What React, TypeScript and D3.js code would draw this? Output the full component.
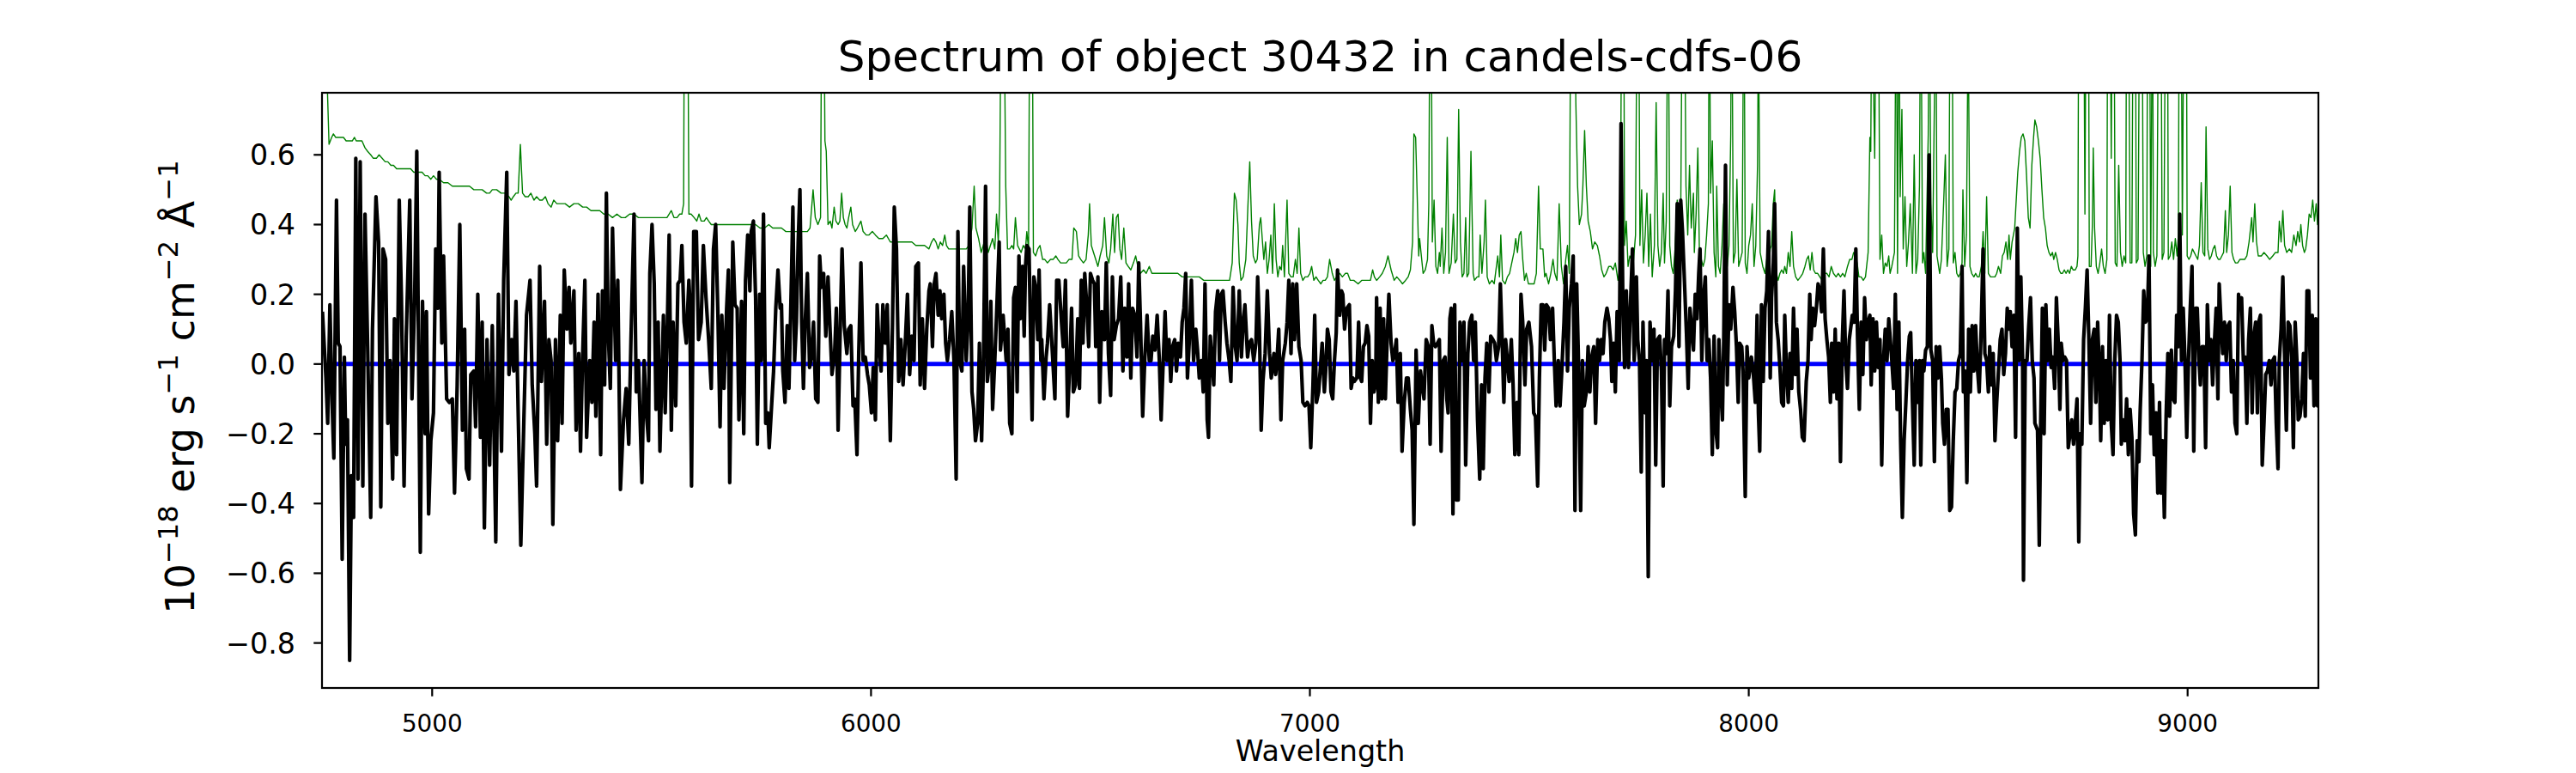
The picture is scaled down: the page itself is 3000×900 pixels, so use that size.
import React, { useEffect, useRef } from "react";
import * as d3 from "d3";

// observed flux (black)
const fluxWave = [
  4750, 4758, 4762, 4767, 4772, 4776, 4782, 4786, 4790, 4795, 4800, 4803, 4807, 4812, 4816, 4821, 4826, 4831, 4836, 4842,
  4847, 4853, 4860, 4864, 4872, 4878, 4883, 4888, 4894, 4899, 4904, 4910, 4914, 4919, 4925, 4930, 4936, 4941, 4949, 4954,
  4960, 4965, 4973, 4978, 4984, 4987, 4992, 4997, 5003, 5008, 5013, 5016, 5022, 5026, 5033, 5039, 5046, 5051, 5057, 5063,
  5069, 5074, 5078, 5084, 5088, 5095, 5099, 5104, 5110, 5114, 5119, 5125, 5131, 5137, 5145, 5151, 5158, 5163, 5170, 5175,
  5181, 5186, 5191, 5197, 5202, 5209, 5215, 5223, 5228, 5234, 5238, 5245, 5249, 5256, 5261, 5266, 5271, 5275, 5281, 5286,
  5292, 5296, 5301, 5307, 5312, 5316, 5323, 5328, 5334, 5338, 5343, 5348, 5352, 5359, 5364, 5369, 5373, 5378, 5384, 5388,
  5393, 5397, 5401, 5406, 5411, 5418, 5423, 5429, 5436, 5442, 5448, 5453, 5460, 5465, 5470, 5478, 5483, 5488, 5493, 5496,
  5501, 5506, 5510, 5515, 5519,
  5527, 5531, 5536, 5540, 5545, 5549, 5555, 5560, 5565, 5569, 5574, 5579, 5585, 5587, 5591, 5596, 5602, 5607, 5613, 5618,
  5624, 5630, 5636, 5641, 5646, 5651, 5656, 5660, 5665, 5671, 5675, 5678, 5685, 5690, 5695, 5699, 5705, 5710, 5714, 5719,
  5724, 5727, 5732, 5737, 5741, 5746, 5750, 5755, 5760, 5765, 5768, 5773, 5778, 5783, 5788, 5793, 5796, 5799, 5804, 5809,
  5813, 5817, 5822, 5826, 5830, 5834, 5838, 5842, 5846, 5850, 5855, 5860, 5864, 5869, 5874, 5879, 5883, 5887, 5892, 5897,
  5902, 5907, 5911, 5917, 5921, 5925, 5930, 5934, 5939, 5945, 5949, 5954, 5959, 5963, 5968, 5972, 5977, 5982, 5987, 5992,
  5996, 6001, 6005, 6010, 6014, 6018, 6023, 6027, 6032, 6037, 6044, 6049, 6053, 6058, 6063, 6068, 6073, 6078, 6083, 6088,
  6093, 6098, 6102, 6108, 6112, 6117, 6122, 6127, 6132, 6135, 6140, 6144, 6148, 6153, 6157, 6161, 6166, 6170, 6174, 6179,
  6184, 6189, 6194, 6198, 6202, 6207, 6211, 6217, 6221, 6225, 6230, 6234, 6238, 6243, 6247, 6252, 6256, 6261, 6265, 6270,
  6273, 6277, 6282, 6286, 6292, 6295, 6301,
  6308, 6312, 6316, 6321, 6325, 6329, 6333, 6337, 6340, 6345, 6349, 6352, 6355, 6360, 6363, 6367, 6371, 6375, 6380, 6383,
  6387, 6389, 6394, 6399, 6402, 6407, 6412, 6419, 6423, 6428, 6434, 6438, 6443, 6448, 6453, 6457, 6461, 6466, 6471, 6475,
  6479, 6483, 6487, 6492, 6496, 6500, 6505, 6509, 6512, 6517, 6521, 6526, 6532, 6536, 6541, 6546, 6550, 6554, 6559, 6564,
  6569, 6574, 6578, 6583, 6587, 6592, 6596, 6601, 6606, 6610, 6614, 6619, 6624, 6629, 6634, 6638, 6642, 6647, 6652, 6657,
  6661, 6665, 6670, 6674, 6679, 6683, 6687, 6692, 6696, 6700, 6705, 6709, 6713, 6717, 6721, 6725, 6730, 6735, 6740, 6744,
  6748, 6753, 6757, 6761, 6766, 6769, 6773, 6777, 6781, 6785, 6790, 6794, 6798, 6802, 6807, 6811, 6816, 6820, 6825, 6830,
  6834, 6839, 6844, 6848, 6852, 6858, 6862, 6867, 6872, 6877, 6881, 6885, 6889, 6893, 6898, 6903, 6908, 6912, 6918, 6922,
  6925, 6929, 6934, 6938, 6944, 6948, 6952, 6957, 6961, 6965, 6970, 6975, 6980, 6984, 6989, 6994, 6998, 7002, 7007, 7011,
  7015, 7020, 7025, 7028, 7033, 7036, 7040, 7044, 7048, 7052, 7056, 7060, 7063, 7068, 7072, 7075, 7079, 7084,
  7090, 7094, 7098, 7101, 7107, 7111, 7115, 7118, 7122, 7126, 7130, 7134, 7138, 7142, 7146, 7150, 7152, 7156, 7160, 7164,
  7168, 7172, 7176, 7180, 7185, 7189, 7193, 7197, 7201, 7206, 7210, 7215, 7220, 7224, 7229, 7233, 7237, 7242, 7247, 7252,
  7255, 7260, 7265, 7270, 7274, 7278, 7282, 7286, 7291, 7295, 7299, 7304, 7308, 7312, 7315, 7319, 7322, 7326, 7330, 7334,
  7338, 7342, 7347, 7351, 7355, 7360, 7364, 7369, 7373, 7377, 7382, 7387, 7391, 7395, 7399, 7403, 7408, 7412, 7417, 7421,
  7425, 7430, 7434, 7438, 7442, 7446, 7450, 7454, 7459, 7463, 7467, 7472, 7476, 7481, 7485, 7490, 7494, 7499, 7505, 7510,
  7514, 7519, 7523, 7527, 7531, 7535, 7539, 7544, 7548, 7553, 7557, 7561, 7566, 7570, 7574, 7579, 7583, 7587, 7591, 7596,
  7600, 7604, 7608, 7612, 7617, 7621, 7625, 7630, 7634, 7638, 7642, 7647, 7651, 7656, 7660, 7664, 7668, 7672, 7677, 7681,
  7685, 7688, 7692, 7696, 7700, 7705, 7709, 7713, 7717, 7721, 7726, 7731, 7735, 7739, 7744, 7747, 7751, 7755, 7759, 7764,
  7767, 7771, 7775, 7780, 7784, 7788, 7792, 7797, 7801, 7805, 7808, 7812, 7816, 7820, 7824, 7829, 7833, 7837, 7841, 7845,
  7849, 7854, 7858, 7862, 7866,
  7874, 7878, 7882, 7886, 7889, 7893, 7897, 7901, 7905, 7909, 7913, 7917, 7921, 7925, 7929, 7932, 7936, 7940, 7943, 7947,
  7951, 7955, 7959, 7964, 7968, 7972, 7976, 7979, 7984, 7987, 7992, 7996, 8000, 8006, 8010, 8015, 8019, 8022, 8025, 8029,
  8033, 8037, 8041, 8045, 8049, 8052, 8056, 8059, 8063, 8067, 8071, 8075, 8079, 8082, 8086, 8090, 8094, 8098, 8102, 8106,
  8110, 8114, 8118, 8122, 8126, 8131, 8135, 8139, 8142, 8146, 8150, 8154, 8158, 8162, 8166, 8170, 8174, 8178, 8182, 8186,
  8189, 8193, 8197, 8201, 8205, 8209, 8213, 8217, 8221, 8225, 8229, 8232, 8236, 8240, 8244, 8248, 8252, 8256, 8260, 8264,
  8268, 8272, 8276, 8279, 8283, 8287, 8291, 8295, 8299, 8303, 8307, 8311, 8315, 8319, 8322, 8326, 8330, 8334, 8338, 8342,
  8346, 8350, 8354, 8358, 8362, 8366, 8369, 8373, 8377, 8381, 8385, 8389, 8392, 8396, 8399, 8403, 8407, 8411, 8415, 8419,
  8423, 8427, 8431, 8435, 8439, 8442, 8446, 8450, 8454, 8458, 8462, 8466, 8470, 8474, 8478, 8482, 8486, 8489, 8493, 8497,
  8501, 8505, 8509, 8513, 8517, 8521, 8525, 8529, 8534, 8538, 8542, 8546, 8549, 8553, 8557, 8561, 8565, 8569, 8573, 8577,
  8581, 8585, 8589, 8593, 8596, 8600, 8604, 8608, 8612, 8616, 8620, 8624, 8626, 8630, 8634, 8638, 8642, 8646, 8650,
  8652, 8658, 8662, 8665, 8669, 8673, 8677, 8681, 8685, 8689, 8693, 8697, 8701, 8705, 8709, 8712, 8716, 8720, 8724, 8728,
  8732, 8736, 8740, 8744, 8748, 8752, 8755, 8759, 8763, 8767, 8771, 8775, 8779, 8783, 8787, 8791, 8795, 8799, 8802, 8806,
  8810, 8814, 8818, 8822, 8826, 8830, 8834, 8838, 8842, 8846, 8849, 8853, 8857, 8861, 8865, 8869, 8873, 8877, 8881, 8885,
  8889, 8892, 8896, 8900, 8904, 8908, 8912, 8916, 8920, 8924, 8928, 8932, 8936, 8939, 8943, 8947, 8951, 8955, 8959, 8963,
  8967, 8971, 8975, 8979, 8982, 8986, 8990, 8994, 8998, 9002, 9006, 9010, 9014, 9018, 9022, 9026, 9029, 9033, 9037, 9041,
  9045, 9049, 9053, 9057, 9061, 9065, 9069, 9072, 9076, 9080, 9084, 9088, 9092, 9096, 9100, 9104, 9108, 9112, 9116, 9119,
  9123, 9127, 9131, 9135, 9139, 9143, 9147, 9151, 9155, 9159, 9162, 9166, 9170, 9174, 9178, 9182, 9186, 9190, 9194, 9198,
  9202, 9206, 9209, 9213, 9217, 9221, 9225, 9229, 9233, 9237, 9241, 9245, 9249, 9252, 9256, 9260, 9264, 9268, 9272, 9276,
  9280, 9284, 9288, 9292, 9296, 9298,
];
const flux = [
  0.15, -0.04, -0.17, 0.17, -0.11, -0.27, 0.47, 0.06, 0.05, -0.56, 0.02, -0.23, -0.16, -0.85, -0.32, -0.44, 0.59, -0.33, 0.58, -0.35,
  0.43, 0.05, -0.44, 0.1, 0.48, 0.35, -0.41, 0.33, 0.3, -0.17, 0.01, -0.33, 0.13, -0.26, 0.47, 0.19, -0.35, 0.08, 0.47, -0.1,
  0.18, 0.61, -0.54, 0.18, -0.2, 0.15, -0.43, -0.22, -0.14, 0.33, 0.16, 0.55, 0.06, 0.31, -0.1, -0.11, -0.1, -0.37, -0.06, 0.4,
  -0.19, 0.1, -0.3, -0.33, -0.03, -0.02, -0.18, 0.2, -0.21, 0.12, -0.47, 0.07, -0.29, 0.11, -0.51, 0.2, -0.25, 0.24, 0.55, -0.03,
  0.07, -0.02, 0.18, -0.2, -0.52, -0.16, 0.14, 0.24, -0.06, -0.2, -0.35, 0.28, -0.05, 0.18, -0.23, 0.07, 0.01, -0.46, 0.07, -0.22,
  0.14, -0.17, 0.27, 0.1, 0.22, 0.06, 0.21, -0.19, 0.03, -0.25, 0.03, 0.24, -0.21, 0.01, -0.11, 0.12, -0.15, 0.2, -0.26, 0.21,
  -0.06, 0.49, 0.1, -0.07, 0.39, 0.01, 0.24, -0.36, -0.16, -0.07, -0.23, 0.07, 0.43, -0.08, 0.01, -0.34, 0.01, -0.14, -0.22, 0.26,
  0.4, 0.23, -0.13, 0.12, -0.25,
  0.14, -0.14, 0.12, 0.37, -0.19, 0.12, -0.12, 0.23, 0.24, 0.34, 0.12, 0.06, 0.24, 0.19, -0.35, 0.38, 0.38, 0.07, 0.12, 0.34,
  0.19, 0.07, -0.07, 0.33, 0.4, 0.15, -0.18, 0.14, -0.07, 0.16, 0.27, -0.34, 0.35, 0.17, 0.16, -0.16, 0.18, -0.2, 0.24, 0.37,
  0.21, 0.38, 0.41, 0.19, -0.23, 0.2, 0.01, 0.43, -0.17, -0.14, -0.24, -0.13, -0.02, 0.16, 0.27, 0.16, 0.17, -0.02, -0.11, 0.11,
  -0.07, 0.15, 0.45, 0.01, 0.12, 0.35, 0.5, 0.12, -0.07, 0.12, 0.26, -0.01, 0.02, 0.12, -0.1, -0.11, 0.31, 0.22, 0.26, 0.08,
  0.25, 0.09, -0.03, 0.03, 0.16, -0.19, 0.11, 0.33, 0.11, 0.03, 0.1, 0.11, -0.12, -0.1, -0.26, 0.03, 0.29, 0.01, 0.02, -0.03,
  -0.06, -0.14, -0.01, -0.16, 0.17, 0.06, -0.02, 0.17, 0.06, 0.17, -0.22, 0.12, 0.45, 0.33, -0.05, 0.07, -0.06, 0.06, 0.2, -0.03,
  0.08, 0.01, 0.28, 0.29, -0.06, 0.13, -0.07, 0.1, 0.21, 0.23, 0.05, 0.23, 0.26, 0.14, 0.21, 0.13, 0.2, 0.06, 0.01, 0.07,
  0.15, 0.01, -0.33, 0.38, 0.01, -0.02, 0.28, 0.01, 0.12, 0.45, -0.08, -0.13, -0.22, -0.17, 0.06, -0.22, -0.01, 0.51, -0.05, 0.01,
  0.18, -0.13, 0.01, 0.14, 0.35, 0.04, 0.14,
  0.01, 0.1, -0.17, -0.2, 0.19, 0.22, -0.08, 0.31, 0.13, 0.28, 0.08, 0.28, 0.34, 0.33, 0.12, -0.16, 0.25, 0.22, 0.07, 0.27,
  0.01, 0.07, -0.1, 0.02, 0.06, 0.17, 0.06, -0.1, 0.24, 0.24, 0.12, 0.05, 0.24, -0.15, 0.01, 0.16, -0.08, -0.06, 0.13, -0.07,
  0.24, 0.06, 0.26, 0.16, 0.05, 0.26, 0.24, 0.23, 0.05, 0.25, -0.11, 0.15, 0.07, 0.29, 0.03, -0.09, 0.25, 0.07, 0.11, 0.13,
  0.25, -0.02, 0.16, 0.02, 0.23, -0.04, 0.16, 0.14, 0.02, 0.29, 0.12, -0.15, 0.02, 0.14, 0.01, 0.01, 0.08, 0.04, 0.14, 0.01,
  -0.16, -0.02, 0.15, 0.01, 0.07, -0.05, 0.05, 0.07, -0.02, 0.06, 0.02, 0.12, 0.16, 0.26, -0.04, 0.06, 0.24, 0.01, 0.1, 0.04,
  -0.04, 0.01, -0.08, 0.23, -0.16, -0.21, 0.08, 0.01, -0.06, 0.15, 0.21, 0.01, 0.2, 0.21, 0.12, 0.06, 0.01, -0.05, 0.22, 0.05,
  0.01, 0.21, 0.02, 0.12, 0.17, 0.02, 0.06, 0.07, 0.01, 0.06, 0.25, 0.1, -0.19, -0.05, 0.03, 0.21, 0.03, -0.04, 0.03, -0.03,
  0.01, 0.1, -0.16, 0.01, 0.06, 0.12, 0.24, 0.03, 0.23, 0.07, 0.23, 0.05, 0.01, -0.11, -0.12, -0.11, -0.12, -0.24, -0.06, 0.14,
  -0.11, -0.08, 0.01, 0.06, -0.08, -0.02, 0.1, 0.07, -0.08, -0.1, 0.01, 0.09, 0.27, 0.14, 0.21, 0.2, 0.1, 0.16,
  0.17, -0.07, -0.04, -0.05, -0.04, 0.12, -0.04, -0.05, 0.05, 0.06, 0.11, 0.08, -0.17, 0.01, -0.08, -0.05, 0.19, -0.11, 0.16, -0.1,
  0.13, -0.1, 0.07, 0.2, 0.06, 0.01, 0.03, 0.07, -0.11, 0.03, -0.25, -0.11, -0.04, -0.04, -0.13, -0.19, -0.46, 0.04, -0.17, -0.02,
  -0.05, -0.1, 0.07, 0.05, -0.23, 0.11, 0.06, 0.05, 0.06, 0.07, -0.25, 0.01, 0.02, -0.1, -0.14, 0.13, 0.16, -0.43, 0.17, -0.39,
  -0.39, 0.12, 0.01, 0.12, -0.29, 0.03, 0.12, 0.14, 0.01, 0.12, -0.16, -0.33, -0.06, -0.3, -0.04, 0.06, -0.08, 0.08, 0.07, 0.06,
  0.01, 0.05, 0.23, 0.07, -0.11, 0.07, 0.01, -0.05, 0.07, -0.06, -0.26, -0.11, -0.26, 0.2, 0.12, -0.06, 0.1, 0.12, 0.05, -0.14,
  -0.15, -0.35, -0.04, 0.17, 0.17, 0.04, 0.17, 0.16, 0.07, 0.16, 0.01, -0.12, 0.01, -0.12, -0.02, 0.12, 0.28, -0.02, 0.16, 0.23,
  0.31, -0.42, 0.23, 0.01, -0.42, 0.01, -0.12, -0.08, 0.05, -0.08, 0.02, 0.05, -0.17, 0.07, 0.01, 0.07, 0.03, 0.12, 0.16, 0.13,
  0.07, -0.05, 0.06, -0.08, 0.15, 0.01, 0.69, 0.19, -0.01, 0.21, -0.01, 0.19, 0.33, 0.01, 0.25, 0.07, 0.01, -0.31, 0.12, -0.14,
  0.01, -0.61, 0.12, 0.01, 0.1, -0.29, 0.07, 0.08, -0.02, -0.35, 0.07, 0.03, 0.21, -0.12, 0.05, 0.08, 0.21, 0.46, 0.05, 0.47,
  0.38, 0.22, 0.09, -0.07, 0.16,
  0.04, 0.2, 0.13, 0.26, 0.33, 0.01, 0.19, 0.25, 0.01, 0.07, -0.04, -0.26, 0.08, -0.19, -0.24, 0.07, -0.07, -0.16, 0.07, 0.57,
  -0.06, 0.17, 0.1, 0.22, 0.15, 0.05, -0.11, 0.06, 0.05, -0.02, -0.38, 0.05, -0.04, 0.02, -0.02, -0.11, 0.14, -0.14, -0.25, 0.17,
  -0.05, 0.16, 0.21, 0.38, -0.04, 0.19, 0.29, 0.46, 0.12, 0.07, -0.01, -0.11, -0.12, 0.14, -0.02, -0.11, 0.03, -0.07, 0.16, -0.03,
  0.1, -0.08, -0.13, -0.21, -0.22, -0.05, 0.01, 0.2, 0.07, 0.16, 0.11, 0.16, 0.23, 0.21, 0.15, 0.33, 0.13, 0.07, 0.02, -0.11,
  0.06, -0.08, 0.1, -0.1, 0.06, -0.28, 0.06, 0.21, 0.01, -0.07, 0.07, 0.1, 0.14, 0.12, 0.33, 0.07, -0.13, 0.12, -0.03, 0.19,
  0.07, 0.12, 0.14, -0.06, 0.13, -0.02, 0.12, -0.01, 0.07, -0.29, 0.01, 0.1, 0.01, 0.13, 0.08, 0.01, -0.07, 0.2, -0.13, 0.12,
  -0.22, -0.44, -0.22, -0.11, 0.01, 0.08, 0.09, -0.11, -0.29, 0.01, -0.11, 0.01, -0.29, 0.01, -0.02, 0.04, 0.05, 0.6, 0.04, 0.01,
  -0.28, 0.05, -0.04, 0.05, -0.04, -0.17, -0.23, -0.13, -0.13, -0.42, -0.41, -0.22, -0.08, -0.07, 0.01, 0.03, 0.28, -0.08, -0.02, -0.34,
  0.1, -0.08, 0.11, -0.02, 0.11, -0.01, -0.08, 0.07, 0.33, 0.03, 0.01, -0.08, 0.05, -0.06, 0.03, -0.22, -0.11, -0.02, 0.07, 0.1,
  -0.03, 0.03, 0.16, 0.1, 0.15, 0.05, 0.14, -0.21, 0.39, 0.01, 0.25, 0.01, -0.62, 0.01, 0.01, 0.11, 0.19, 0.01, -0.04,
  -0.17, -0.19, -0.52, -0.19, 0.16, -0.2, 0.17, 0.01, 0.1, -0.01, 0.02, -0.07, 0.19, 0.07, -0.13, 0.06, 0.01, 0.02, 0.01, -0.24,
  -0.2, -0.16, -0.23, -0.17, -0.1, -0.51, -0.2, -0.23, 0.07, 0.16, 0.27, 0.07, -0.17, 0.07, 0.1, -0.11, 0.12, -0.02, -0.22, 0.05,
  -0.17, 0.01, -0.16, 0.14, -0.17, -0.26, 0.01, 0.14, 0.12, 0.01, -0.23, -0.16, -0.22, -0.1, -0.26, -0.13, -0.21, -0.43, -0.49, -0.22,
  -0.28, -0.13, 0.01, 0.21, 0.12, 0.13, 0.31, -0.2, -0.06, -0.26, -0.14, -0.37, -0.11, -0.37, -0.22, -0.44, -0.15, 0.03, -0.15, 0.04,
  -0.1, -0.11, 0.14, 0.05, 0.43, 0.01, 0.16, 0.01, -0.21, 0.01, 0.16, 0.28, -0.25, 0.16, 0.16, 0.01, -0.06, 0.05, 0.05, -0.24,
  0.17, 0.01, 0.07, -0.06, 0.06, 0.16, -0.1, 0.23, 0.12, 0.03, 0.12, 0.01, 0.11, 0.12, -0.08, 0.01, -0.17, -0.2, 0.2, 0.16,
  0.19, 0.01, 0.02, -0.17, 0.07, 0.16, -0.14, 0.08, 0.12, -0.14, 0.12, 0.14, -0.29, -0.17, -0.03, -0.02, 0.01, -0.06, 0.01, 0.02,
  -0.17, -0.3, 0.01, 0.1, 0.25, 0.02, -0.19, 0.12, 0.11, 0.02, -0.24, 0.12, 0.01, -0.16, -0.15, -0.1, 0.03, -0.15, 0.21, 0.21,
  -0.04, 0.14, -0.12, 0.13, -0.12, 0.1,
];

// noise / sky spectrum (green)
const skyWave = [
  4750, 4755, 4761, 4765, 4771, 4775, 4780, 4785, 4791, 4798, 4804, 4811, 4818, 4823, 4827, 4834, 4840, 4847, 4853, 4860,
  4866, 4873, 4879, 4886, 4893, 4899, 4906, 4912, 4919, 4925, 4932, 4938, 4945, 4951, 4958, 4964, 4971, 4977, 4984, 4990,
  4997, 5003, 5010, 5016, 5026, 5036, 5046, 5056, 5065, 5075, 5085, 5095, 5104, 5114, 5124, 5131, 5137, 5147, 5157, 5166,
  5175, 5180, 5185, 5191, 5196, 5201, 5206, 5212, 5219, 5225, 5232, 5238, 5245, 5251, 5258, 5264, 5271, 5277, 5284, 5294,
  5303, 5313, 5323, 5333, 5343, 5352, 5362, 5372, 5382, 5391, 5401, 5411, 5421, 5431, 5440, 5450, 5460, 5470, 5480, 5489,
  5499, 5509, 5519,
  5528, 5535, 5545, 5551, 5558, 5564, 5569, 5573, 5575, 5582, 5585, 5590, 5597, 5603, 5608, 5613, 5620, 5625, 5630, 5636,
  5643, 5649, 5659, 5669, 5678, 5688, 5698, 5708, 5718, 5727, 5737, 5747, 5757, 5767, 5776, 5786, 5796, 5806, 5815, 5825,
  5835, 5845, 5855, 5861, 5868, 5873, 5879, 5885, 5888, 5892, 5895, 5898, 5902, 5907, 5911, 5916, 5920, 5925, 5929, 5933,
  5937, 5941, 5945, 5949, 5954, 5958, 5964, 5969, 5977, 5982, 5989, 5995, 6003, 6010, 6018, 6027, 6035, 6044, 6053, 6063,
  6073, 6083, 6093, 6102, 6112, 6122, 6132, 6138, 6143, 6148, 6153, 6158, 6163, 6168, 6172, 6177, 6184, 6194, 6203, 6210,
  6217, 6223, 6230, 6235, 6239, 6245, 6251, 6258, 6263, 6267, 6272, 6277, 6282, 6286, 6290, 6293, 6297, 6302,
  6307, 6311, 6316, 6321, 6325, 6329, 6334, 6338, 6342, 6347, 6352, 6355, 6359, 6362, 6367, 6370, 6375, 6380, 6385, 6391,
  6396, 6402, 6409, 6415, 6421, 6426, 6432, 6438, 6445, 6451, 6458, 6462, 6468, 6473, 6478, 6484, 6490, 6495, 6498, 6502,
  6507, 6512, 6517, 6522, 6528, 6532, 6537, 6542, 6546, 6551, 6555, 6559, 6563, 6567, 6571, 6576, 6581, 6586, 6592, 6598,
  6603, 6608, 6614, 6621, 6627, 6634, 6640, 6650, 6660, 6670, 6680, 6689, 6699, 6709, 6719, 6728, 6738, 6748, 6758, 6768,
  6777, 6787, 6797, 6807, 6817, 6823, 6828, 6832, 6836, 6839, 6843, 6848, 6854, 6859, 6863, 6867, 6871, 6876, 6880, 6885,
  6888, 6892, 6895, 6899, 6903, 6907, 6911, 6915, 6919, 6923, 6927, 6931, 6935, 6938, 6942, 6948, 6952, 6957, 6962, 6967,
  6971, 6975, 6979, 6984, 6989, 6995, 7000, 7004, 7009, 7014, 7019, 7025, 7030, 7035, 7040, 7045, 7051, 7056, 7061, 7068,
  7074, 7081, 7086,
  7092, 7100, 7110, 7118, 7123, 7128, 7133, 7138, 7143, 7147, 7152, 7159, 7165, 7172, 7178, 7185, 7192, 7198, 7205, 7211,
  7218, 7224, 7229, 7234, 7237, 7241, 7245, 7248, 7250, 7254, 7258, 7263, 7268, 7271, 7274, 7276, 7279, 7283, 7287, 7291,
  7295, 7297, 7301, 7305, 7309, 7313, 7317, 7322, 7327, 7331, 7335, 7339, 7343, 7347, 7351, 7355, 7358, 7362, 7367, 7372,
  7375, 7381, 7385, 7388, 7392, 7397, 7400, 7404, 7409, 7415, 7420, 7424, 7428, 7432, 7435, 7439, 7445, 7450, 7455, 7460,
  7465, 7469, 7473, 7477, 7481, 7485, 7489, 7493, 7498, 7505, 7511, 7516, 7521, 7525, 7531, 7535, 7538, 7544, 7549, 7554,
  7558, 7563, 7568, 7573, 7578, 7583, 7587, 7591, 7595, 7602, 7606, 7610, 7614, 7619, 7622, 7626, 7630, 7634, 7639, 7644,
  7649, 7655, 7660, 7665, 7670, 7675, 7681, 7686, 7691, 7696, 7702, 7707, 7711, 7715, 7717, 7721, 7725, 7729, 7733, 7737,
  7742, 7746, 7749, 7752, 7756, 7760, 7764, 7768, 7772, 7776, 7780, 7785, 7789, 7793, 7797, 7801, 7805, 7808, 7812, 7816,
  7820, 7824, 7828, 7832, 7837, 7841, 7845, 7849, 7853, 7857, 7861, 7865, 7869,
  7874, 7876, 7880, 7884, 7888, 7892, 7896, 7900, 7904, 7908, 7910, 7913, 7917, 7921, 7925, 7927, 7931, 7935, 7939, 7943,
  7947, 7951, 7955, 7959, 7961, 7965, 7969, 7973, 7977, 7981, 7985, 7989, 7992, 7996, 8000, 8004, 8008, 8012, 8016, 8020,
  8022, 8026, 8032, 8037, 8041, 8045, 8049, 8052, 8056, 8059, 8063, 8067, 8071, 8075, 8079, 8082, 8086, 8090, 8094, 8098,
  8102, 8107, 8112, 8118, 8123, 8128, 8132, 8136, 8140, 8144, 8148, 8152, 8157, 8162, 8167, 8172, 8178, 8183, 8188, 8193,
  8199, 8204, 8209, 8214, 8219, 8225, 8230, 8235, 8239, 8243, 8247, 8251, 8256, 8261, 8266, 8272, 8276, 8278, 8281, 8285,
  8287, 8291, 8295, 8299, 8303, 8307, 8311, 8315, 8319, 8322, 8326, 8332, 8336, 8339, 8342, 8345, 8349, 8352, 8356, 8360,
  8364, 8368, 8373, 8377, 8381, 8385, 8389, 8392, 8396, 8399, 8403, 8409, 8411, 8415, 8419, 8423, 8426, 8429, 8435, 8439,
  8444, 8448, 8452, 8456, 8459, 8463, 8466, 8470, 8474, 8478, 8482, 8486, 8488, 8492, 8496, 8500, 8504, 8508, 8513, 8517,
  8521, 8525, 8530, 8534, 8538, 8542, 8546, 8551, 8556, 8561, 8565, 8569, 8574, 8578, 8582, 8586, 8590, 8593, 8596, 8600,
  8606, 8609, 8613, 8617, 8621, 8625, 8629, 8633, 8637, 8641, 8645, 8649, 8652,
  8656, 8660, 8664, 8668, 8672, 8676, 8680, 8684, 8688, 8692, 8695, 8699, 8703, 8707, 8711, 8715, 8719, 8723, 8727, 8731,
  8735, 8739, 8744, 8748, 8750, 8752, 8763, 8766, 8769, 8774, 8776, 8780, 8783, 8785, 8788, 8792, 8796, 8800, 8804, 8808,
  8812, 8816, 8818, 8823, 8826, 8829, 8832, 8835, 8839, 8843, 8847, 8851, 8855, 8859, 8861, 8865, 8869, 8873, 8876, 8881,
  8883, 8887, 8891, 8896, 8899, 8903, 8907, 8909, 8913, 8916, 8920, 8922, 8926, 8930, 8934, 8939, 8942, 8946, 8950, 8954,
  8956, 8960, 8964, 8968, 8972, 8976, 8979, 8981, 8985, 8988, 8992, 8997, 8999, 9003, 9007, 9011, 9015, 9019, 9023, 9027,
  9031, 9035, 9039, 9042, 9046, 9050, 9054, 9058, 9062, 9066, 9070, 9074, 9078, 9082, 9086, 9089, 9093, 9097, 9101, 9105,
  9109, 9114, 9119, 9125, 9130, 9135, 9140, 9146, 9149, 9153, 9157, 9161, 9168, 9174, 9181, 9187, 9194, 9200, 9206, 9209,
  9213, 9217, 9221, 9226, 9232, 9237, 9242, 9247, 9251, 9255, 9258, 9262, 9266, 9269, 9273, 9277, 9281, 9285, 9289, 9293,
  9296, 9298,
];
const sky = [
  1.5, 1.4, 0.8, 0.63, 0.65, 0.66, 0.65, 0.65, 0.65, 0.65, 0.64, 0.64, 0.64, 0.65, 0.64, 0.64, 0.64, 0.62, 0.61, 0.6,
  0.59, 0.59, 0.6, 0.59, 0.58, 0.58, 0.57, 0.57, 0.56, 0.56, 0.56, 0.56, 0.56, 0.56, 0.55, 0.55, 0.55, 0.55, 0.54, 0.54,
  0.53, 0.54, 0.53, 0.53, 0.52, 0.52, 0.51, 0.51, 0.51, 0.51, 0.51, 0.5, 0.5, 0.5, 0.49, 0.49, 0.5, 0.5, 0.49, 0.49,
  0.48, 0.47, 0.48, 0.49, 0.49, 0.63, 0.49, 0.48, 0.48, 0.49, 0.47, 0.48, 0.47, 0.47, 0.48, 0.46, 0.45, 0.47, 0.46, 0.46,
  0.46, 0.45, 0.46, 0.46, 0.45, 0.45, 0.44, 0.44, 0.44, 0.43, 0.43, 0.42, 0.43, 0.42, 0.42, 0.43, 0.43, 0.42, 0.42, 0.42,
  0.42, 0.42, 0.42,
  0.42, 0.42, 0.44, 0.42, 0.42, 0.43, 0.43, 0.46, 1.2, 1.2, 0.43, 0.43, 0.42, 0.41, 0.43, 0.41, 0.41, 0.42, 0.41, 0.4,
  0.4, 0.4, 0.4, 0.4, 0.4, 0.4, 0.4, 0.4, 0.4, 0.4, 0.4, 0.39, 0.39, 0.4, 0.39, 0.39, 0.39, 0.38, 0.38, 0.38,
  0.38, 0.38, 0.38, 0.39, 0.5, 0.42, 0.4, 0.42, 1.2, 1.2, 0.64, 0.61, 0.4, 0.41, 0.39, 0.45, 0.41, 0.4, 0.41, 0.49,
  0.42, 0.4, 0.39, 0.42, 0.45, 0.4, 0.38, 0.39, 0.41, 0.38, 0.37, 0.37, 0.38, 0.37, 0.36, 0.36, 0.37, 0.35, 0.35, 0.35,
  0.35, 0.35, 0.35, 0.34, 0.34, 0.34, 0.33, 0.35, 0.36, 0.35, 0.33, 0.35, 0.34, 0.37, 0.34, 0.33, 0.33, 0.33, 0.33, 0.33,
  0.33, 0.34, 0.39, 0.51, 0.39, 0.36, 0.32, 0.35, 0.35, 0.32, 0.34, 0.36, 0.33, 0.43, 0.35, 0.46, 1.2, 1.2,
  0.51, 0.33, 0.33, 0.34, 0.33, 0.42, 0.34, 0.33, 0.32, 0.34, 0.33, 0.38, 0.33, 1.2, 1.2, 0.32, 0.31, 0.33, 0.34, 0.3,
  0.3, 0.29, 0.3, 0.3, 0.31, 0.3, 0.29, 0.29, 0.29, 0.3, 0.3, 0.39, 0.38, 0.31, 0.3, 0.29, 0.3, 0.37, 0.46, 0.34,
  0.32, 0.3, 0.28, 0.31, 0.34, 0.42, 0.31, 0.29, 0.33, 0.43, 0.32, 0.42, 0.43, 0.33, 0.3, 0.39, 0.29, 0.28, 0.27, 0.29,
  0.31, 0.28, 0.26, 0.27, 0.26, 0.28, 0.26, 0.26, 0.26, 0.26, 0.26, 0.26, 0.26, 0.25, 0.25, 0.25, 0.25, 0.25, 0.24, 0.24,
  0.24, 0.24, 0.24, 0.24, 0.24, 0.29, 0.49, 0.47, 0.4, 0.29, 0.24, 0.25, 0.3, 0.46, 0.58, 0.41, 0.31, 0.29, 0.3, 0.4,
  0.42, 0.35, 0.3, 0.35, 0.26, 0.3, 0.37, 0.26, 0.46, 0.3, 0.25, 0.28, 0.27, 0.34, 0.25, 0.47, 0.26, 0.25, 0.25, 0.3,
  0.26, 0.39, 0.26, 0.24, 0.25, 0.25, 0.26, 0.28, 0.24, 0.25, 0.24, 0.23, 0.24, 0.24, 0.25, 0.3, 0.26, 0.24, 0.25, 0.26,
  0.25, 0.26, 0.26,
  0.24, 0.24, 0.23, 0.24, 0.24, 0.24, 0.24, 0.24, 0.27, 0.25, 0.24, 0.25, 0.26, 0.28, 0.31, 0.27, 0.24, 0.25, 0.24, 0.23,
  0.24, 0.25, 0.27, 0.35, 0.66, 0.65, 0.46, 0.31, 0.36, 0.31, 0.26, 0.27, 0.3, 0.46, 1.2, 1.2, 0.35, 0.47, 0.28, 0.26,
  0.32, 0.28, 0.39, 0.26, 0.32, 0.65, 0.26, 0.29, 0.43, 0.29, 0.3, 0.73, 0.35, 0.25, 0.26, 0.42, 0.25, 0.26, 0.61, 0.26,
  0.24, 0.25, 0.25, 0.37, 0.26, 0.35, 0.47, 0.25, 0.23, 0.24, 0.23, 0.27, 0.31, 0.25, 0.37, 0.24, 0.23, 0.25, 0.26, 0.29,
  0.32, 0.36, 0.32, 0.37, 0.38, 0.3, 0.24, 0.26, 0.23, 0.23, 0.23, 0.26, 0.51, 0.33, 0.33, 0.25, 0.26, 0.23, 0.26, 0.3,
  0.26, 0.24, 0.46, 0.28, 0.23, 0.3, 0.34, 0.26, 1.2, 1.2, 0.75, 0.51, 0.4, 0.43, 0.51, 0.67, 0.51, 0.41, 0.38, 0.33,
  0.35, 0.34, 0.31, 0.27, 0.25, 0.26, 0.28, 0.28, 0.27, 0.29, 0.24, 0.28, 1.2, 1.2, 0.34, 0.41, 0.28, 0.31, 0.3, 0.29,
  0.37, 1.2, 1.2, 0.34, 0.5, 0.29, 0.37, 0.49, 0.28, 0.43, 0.25, 0.34, 0.75, 0.34, 0.28, 0.32, 0.49, 0.29, 0.41, 1.2,
  0.34, 0.28, 0.26, 0.33, 0.47, 0.3, 0.42, 1.2, 1.2, 0.51, 0.37, 0.57, 0.39,
  0.49, 0.32, 0.43, 0.62, 0.28, 0.3, 0.28, 0.3, 0.37, 0.46, 1.2, 0.49, 0.64, 0.32, 0.25, 0.51, 0.28, 0.26, 0.34, 0.46,
  0.28, 0.28, 0.34, 0.66, 1.2, 0.29, 0.32, 0.53, 0.28, 0.3, 0.32, 1.2, 0.29, 0.26, 0.34, 0.37, 0.46, 0.28, 0.34, 0.57,
  1.0, 0.32, 0.28, 0.26, 0.3, 0.26, 0.33, 0.34, 0.46, 0.5, 0.26, 0.24, 0.26, 0.27, 0.26, 0.28, 0.26, 0.32, 0.28, 0.38,
  0.28, 0.25, 0.24, 0.25, 0.26, 0.28, 0.3, 0.31, 0.27, 0.32, 0.27, 0.26, 0.26, 0.25, 0.24, 0.26, 0.26, 0.25, 0.28, 0.26,
  0.25, 0.26, 0.25, 0.26, 0.25, 0.28, 0.3, 0.3, 0.32, 0.31, 0.29, 0.25, 0.25, 0.24, 0.25, 0.32, 0.65, 0.61, 1.2, 0.74,
  0.59, 1.2, 1.2, 0.3, 0.37, 0.26, 0.29, 0.28, 0.31, 0.26, 0.28, 0.32, 1.2, 0.26, 1.2, 0.48, 0.73, 0.33, 0.48, 0.28,
  0.35, 0.46, 0.26, 0.6, 0.26, 0.3, 0.51, 1.2, 0.29, 0.32, 0.26, 0.66, 1.2, 0.46, 0.32, 0.75, 1.2, 0.31, 0.26, 0.3,
  0.46, 0.6, 0.28, 0.33, 1.2, 1.2, 0.29, 0.32, 0.26, 0.25, 0.26, 0.29, 0.5, 0.28, 0.37, 1.0, 0.28, 0.26, 0.25, 0.26,
  0.25, 0.25, 0.28, 0.38, 0.26, 0.48, 0.26, 0.25, 0.25, 0.25, 0.26, 0.28, 0.26, 0.31, 0.32, 0.35, 0.3, 0.37, 0.3, 0.35,
  0.39, 0.46, 0.55, 0.61, 0.65, 0.66, 0.64, 0.54, 0.42, 0.39, 0.57, 0.65, 0.7,
  0.68, 0.64, 0.59, 0.5, 0.42, 0.39, 0.34, 0.32, 0.31, 0.32, 0.3, 0.32, 0.3, 0.27, 0.26, 0.26, 0.27, 0.26, 0.27, 0.26,
  0.28, 0.27, 0.27, 0.28, 0.31, 1.2, 1.2, 0.43, 1.2, 1.2, 0.28, 0.28, 0.4, 0.62, 0.39, 0.28, 0.26, 0.29, 0.33, 0.28,
  0.26, 0.3, 1.2, 1.2, 0.59, 1.2, 1.2, 0.29, 0.28, 0.57, 0.32, 0.28, 0.31, 0.29, 1.2, 1.2, 0.29, 0.29, 1.2, 1.2,
  0.29, 0.3, 1.2, 1.2, 0.32, 0.28, 0.31, 1.2, 1.2, 0.28, 1.2, 0.32, 0.28, 0.31, 1.2, 1.2, 0.3, 0.32, 1.2, 1.2,
  0.3, 0.31, 0.35, 0.3, 0.36, 0.31, 0.37, 1.2, 1.2, 0.37, 1.2, 1.2, 0.31, 0.3, 0.31, 0.33, 0.32, 0.31, 0.3, 0.34,
  0.52, 0.32, 0.31, 0.68, 0.33, 0.3, 0.31, 0.33, 0.34, 0.31, 0.3, 0.3, 0.31, 0.32, 0.44, 0.32, 0.37, 0.51, 0.32, 0.3,
  0.29, 0.29, 0.3, 0.3, 0.3, 0.31, 0.35, 0.42, 0.35, 0.46, 0.35, 0.31, 0.31, 0.32, 0.31, 0.3, 0.31, 0.32, 0.32, 0.41,
  0.35, 0.44, 0.34, 0.32, 0.33, 0.32, 0.37, 0.34, 0.38, 0.35, 0.4, 0.34, 0.32, 0.33, 0.37, 0.43, 0.42, 0.47, 0.41, 0.46,
  0.4, 0.41,
];

// flat model (blue)
const modelWave = [4781, 9265];
const model = [0, 0];

const xTicks = [5000, 6000, 7000, 8000, 9000];
const yTicks = [-0.8, -0.6, -0.4, -0.2, 0.0, 0.2, 0.4, 0.6];
const xLimits = [4749, 9298];
const yLimits = [-0.929, 0.778];

const title = "Spectrum of object 30432 in candels-cdfs-06";
const xLabel = "Wavelength";

const W = 3000;
const H = 900;
const margin = { left: 375, right: 300, top: 108, bottom: 99 };

const App: React.FC = () => {
  const svgRef = useRef<SVGSVGElement | null>(null);

  useEffect(() => {
    document.body.style.margin = "0";
    if (!svgRef.current) return;
    const svg = d3.select(svgRef.current);
    svg.selectAll("*").remove();

    const x0 = margin.left;
    const x1 = W - margin.right;
    const y0 = margin.top;
    const y1 = H - margin.bottom;

    const x = d3.scaleLinear().domain(xLimits).range([x0, x1]);
    const y = d3.scaleLinear().domain(yLimits).range([y1, y0]);

    svg.append("rect").attr("width", W).attr("height", H).attr("fill", "#fff");

    svg
      .append("defs")
      .append("clipPath")
      .attr("id", "plot-clip")
      .append("rect")
      .attr("x", x0)
      .attr("y", y0)
      .attr("width", x1 - x0)
      .attr("height", y1 - y0);

    const plot = svg.append("g").attr("clip-path", "url(#plot-clip)");

    const line = d3
      .line<[number, number]>()
      .x((d) => x(d[0]))
      .y((d) => y(d[1]));

    const skyPts = skyWave.map((w, i) => [w, sky[i]] as [number, number]);
    const modelPts = modelWave.map((w, i) => [w, model[i]] as [number, number]);
    const fluxPts = fluxWave.map((w, i) => [w, flux[i]] as [number, number]);

    plot
      .append("path")
      .attr("d", line(skyPts))
      .attr("fill", "none")
      .attr("stroke", "#008000")
      .attr("stroke-width", 1.4)
      .attr("stroke-linejoin", "round");

    plot
      .append("path")
      .attr("d", line(modelPts))
      .attr("fill", "none")
      .attr("stroke", "#0000ff")
      .attr("stroke-width", 5);

    plot
      .append("path")
      .attr("d", line(fluxPts))
      .attr("fill", "none")
      .attr("stroke", "#000")
      .attr("stroke-width", 4.2)
      .attr("stroke-linejoin", "round");

    // frame
    svg
      .append("rect")
      .attr("x", x0)
      .attr("y", y0)
      .attr("width", x1 - x0)
      .attr("height", y1 - y0)
      .attr("fill", "none")
      .attr("stroke", "#000")
      .attr("stroke-width", 2.2);

    const font = "'DejaVu Sans', sans-serif";
    const tickLen = 9.7;

    // x ticks
    const xt = svg.append("g");
    xTicks.forEach((t) => {
      xt.append("line")
        .attr("x1", x(t))
        .attr("x2", x(t))
        .attr("y1", y1)
        .attr("y2", y1 + tickLen)
        .attr("stroke", "#000")
        .attr("stroke-width", 2.2);
      xt.append("text")
        .attr("x", x(t))
        .attr("y", 852)
        .attr("text-anchor", "middle")
        .attr("font-family", font)
        .attr("font-size", 27.8)
        .text(d3.format("d")(t));
    });

    // y ticks
    const fmt = d3.format(".1f");
    const yt = svg.append("g");
    yTicks.forEach((t) => {
      yt.append("line")
        .attr("x1", x0 - tickLen)
        .attr("x2", x0)
        .attr("y1", y(t))
        .attr("y2", y(t))
        .attr("stroke", "#000")
        .attr("stroke-width", 2.2);
      yt.append("text")
        .attr("x", 344)
        .attr("y", y(t) + 12)
        .attr("text-anchor", "end")
        .attr("font-family", font)
        .attr("font-size", 33.3)
        .text(fmt(t));
    });

    // title and labels
    svg
      .append("text")
      .attr("x", (x0 + x1) / 2)
      .attr("y", 83)
      .attr("text-anchor", "middle")
      .attr("font-family", font)
      .attr("font-size", 50)
      .text(title);

    svg
      .append("text")
      .attr("x", (x0 + x1) / 2)
      .attr("y", 886)
      .attr("text-anchor", "middle")
      .attr("font-family", font)
      .attr("font-size", 33.3)
      .text(xLabel);

    // y label with superscripts
    const fs = 46;
    const sup = 0.7 * fs;
    const rise = 0.42 * fs;
    const yl = svg
      .append("text")
      .attr("transform", `translate(226, ${(y0 + y1) / 2 - 4}) rotate(-90)`)
      .attr("text-anchor", "middle")
      .attr("font-family", font)
      .attr("font-size", fs);
    const parts: [string, boolean][] = [
      ["10", false],
      ["\u221218", true],
      [" erg s", false],
      ["\u22121", true],
      [" cm", false],
      ["\u22122", true],
      [" \u00c5", false],
      ["\u22121", true],
    ];
    let raised = false;
    parts.forEach(([s, isSup]) => {
      const ts = yl.append("tspan").text(s);
      if (isSup && !raised) {
        ts.attr("dy", -rise).attr("font-size", sup);
        raised = true;
      } else if (!isSup && raised) {
        ts.attr("dy", rise);
        raised = false;
      }
    });
  }, []);

  return <svg ref={svgRef} width={W} height={H} style={{ display: "block" }} />;
};

export default App;
